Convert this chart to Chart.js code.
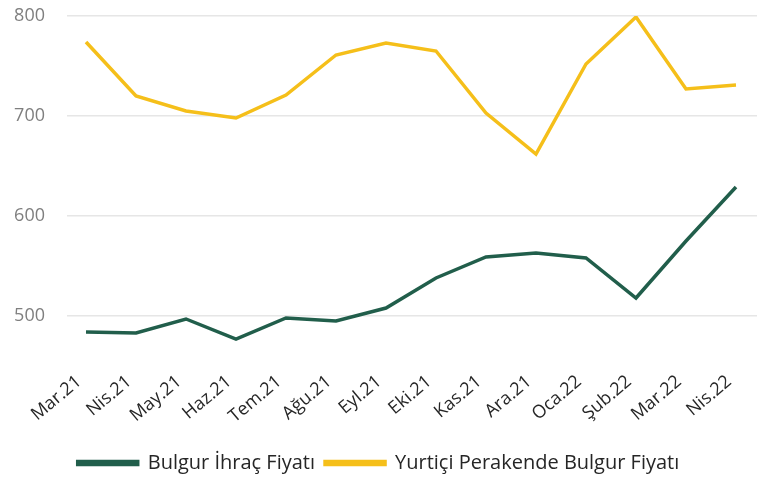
<!DOCTYPE html>
<html>
<head>
<meta charset="utf-8">
<script src="https://cdn.jsdelivr.net/npm/chart.js@4/dist/chart.umd.min.js"></script>
<style>
  html, body { margin: 0; padding: 0; background: #fff; }
  #wrap { width: 771px; height: 479px; }
</style>
</head>
<body>
<div id="wrap"><canvas id="chart" width="771" height="479"></canvas></div>
<script>
// Aylar
const months = ['Mar.21', 'Nis.21', 'May.21', 'Haz.21', 'Tem.21', 'Ağu.21', 'Eyl.21',
  'Eki.21', 'Kas.21', 'Ara.21', 'Oca.22', 'Şub.22', 'Mar.22', 'Nis.22'];

// Seriler
const ihracFiyati = [484, 483, 497, 477, 498, 495, 508, 538, 559, 563, 558, 518, 575, 629];
const perakendeFiyati = [774, 720, 705, 698, 721, 761, 773, 765, 703, 662, 752, 799, 727, 731];

const yTicks = [500, 600, 700, 800];

const toPoints = arr => arr.map((v, i) => ({ x: i, y: v }));

const ctx = document.getElementById('chart').getContext('2d');
new Chart(ctx, {
  type: 'line',
  data: {
    datasets: [{
      label: 'Bulgur İhraç Fiyatı',
      data: toPoints(ihracFiyati),
      borderColor: '#215E4B',
      backgroundColor: '#215E4B',
      borderWidth: 3.5,
      pointRadius: 0,
      tension: 0
    },
    {
      label: 'Yurtiçi Perakende Bulgur Fiyatı',
      data: toPoints(perakendeFiyati),
      borderColor: '#F5BF1A',
      backgroundColor: '#F5BF1A',
      borderWidth: 3.5,
      pointRadius: 0,
      tension: 0
    }]
  },
  options: {
    responsive: false,
    animation: false,
    layout: { padding: { left: 0, right: 14, top: 16, bottom: -4 } },
    plugins: {
      tooltip: { enabled: false },
      legend: {
        position: 'bottom',
        labels: {
          boxWidth: 60,
          boxHeight: 3,
          padding: 10,
          color: '#262626',
          font: { family: 'Open Sans', size: 20 }
        }
      }
    },
    scales: {
      x: {
        type: 'linear',
        min: -0.38,
        max: 13.42,
        afterBuildTicks: scale => { scale.ticks = months.map((m, i) => ({ value: i })); },
        afterFit: scale => { scale.height = 77; },
        grid: { display: false },
        border: { display: false },
        ticks: {
          autoSkip: false,
          maxRotation: 40,
          minRotation: 40,
          padding: -3,
          labelOffset: -7,
          color: '#262626',
          font: { family: 'Open Sans', size: 18 },
          callback: value => months[value]
        }
      },
      y: {
        min: 450,
        max: 800,
        afterBuildTicks: scale => { scale.ticks = yTicks.map(v => ({ value: v })); },
        afterFit: scale => {
          scale.width = 67;
          scale.paddingTop = 0;
          scale.paddingBottom = 0;
        },
        grid: { color: '#E6E6E6', lineWidth: 1.5, drawTicks: false },
        border: { display: false },
        ticks: {
          padding: 22,
          color: '#7F7F7F',
          font: { family: 'Open Sans', size: 18 }
        }
      }
    }
  }
});
</script>
</body>
</html>
